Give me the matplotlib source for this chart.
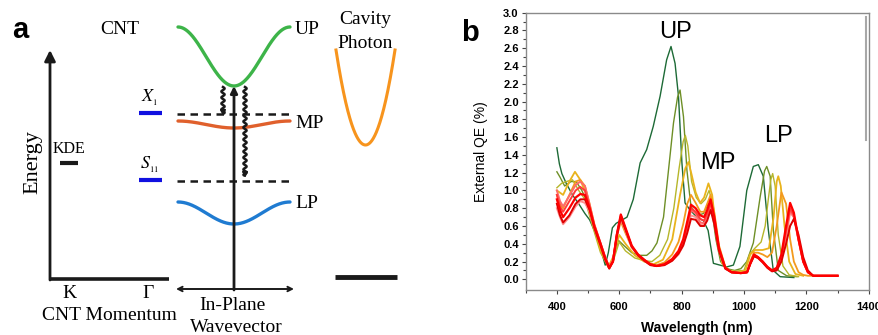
import matplotlib.pyplot as plt
import numpy as np

plt.rcParams['font.family'] = 'Liberation Sans'
plt.rcParams['mathtext.fontset'] = 'stix'

SERIF = 'Liberation Serif'

# ---------------- panel a: level diagram (pixel units) ----------------
band_names = ['UP', 'MP', 'LP']
band_edge = [27, 121, 202]       # energy at the band ends
band_center = [86, 128, 224]     # energy at zero wavevector
band_colors = ['#3db449', '#e0602c', '#1f7bd1']
band_x = [178, 290]

photon_x = [336, 395]
photon_edge = 50
photon_center = 145

exciton_labels = ['$X_{_1}$', '$S_{_{11}}$']
exciton_levels = [114, 181]

kde_level = 163

# ---------------- panel b: external QE spectra ----------------
dg_wl = [400, 408, 416, 430, 450, 470, 490, 505, 520, 540, 555, 565, 578, 590, 605, 625, 645, 667,
         688, 709, 731, 752, 766, 779, 790, 801, 811, 827, 849, 870, 885, 902, 923, 945, 966, 987,
         1009, 1030, 1046, 1062, 1078, 1094, 1116, 1160]
dg_qe = [1.48, 1.3, 1.19, 1.08, 0.95, 0.85, 0.74, 0.67, 0.55, 0.35, 0.16, 0.3, 0.58, 0.63, 0.66, 0.7,
         0.9, 1.31, 1.46, 1.72, 2.06, 2.47, 2.62, 2.43, 2.06, 1.31, 0.86, 0.78, 0.70, 0.66, 0.55, 0.18,
         0.16, 0.14, 0.16, 0.37, 1.0, 1.27, 1.29, 1.16, 0.56, 0.10, 0.03, 0.02]

ol_wl = [400, 410, 425, 445, 462, 480, 500, 520, 545, 565, 580, 597, 615, 640, 665, 688, 705, 721,
         742, 758, 774, 787, 795, 806, 817, 830, 850, 870, 885, 897, 910, 925, 945, 970, 990, 1009,
         1030, 1052, 1066, 1073, 1084, 1094, 1110, 1137, 1170]
ol_qe = [1.21, 1.15, 1.05, 1.1, 1.1, 1.0, 0.85, 0.6, 0.3, 0.14, 0.2, 0.44, 0.38, 0.3, 0.27, 0.27,
         0.32, 0.41, 0.70, 1.23, 1.76, 2.05, 2.13, 1.83, 1.23, 0.82, 0.72, 0.74, 0.85, 0.78, 0.45,
         0.2, 0.12, 0.1, 0.12, 0.2, 0.41, 0.93, 1.22, 1.27, 1.16, 0.56, 0.1, 0.04, 0.03]

yg_wl = [400, 415, 430, 450, 470, 490, 510, 540, 565, 580, 600, 620, 650, 680, 705, 730, 755, 775,
         792, 805, 812, 820, 832, 847, 862, 876, 888, 900, 915, 935, 960, 1000, 1018, 1035, 1055,
         1068, 1078, 1086, 1092, 1100, 1110, 1125, 1145, 1175]
yg_qe = [1.03, 1.08, 1.1, 1.12, 1.0, 0.9, 0.65, 0.3, 0.14, 0.2, 0.42, 0.32, 0.24, 0.21, 0.2, 0.27,
         0.45, 0.8, 1.25, 1.55, 1.62, 1.5, 1.1, 0.92, 0.85, 0.9, 1.0, 0.85, 0.4, 0.15, 0.09, 0.1,
         0.28, 0.35, 0.42, 0.6, 0.9, 1.12, 1.19, 1.05, 0.5, 0.15, 0.05, 0.03]

gd_wl = [400, 420, 440, 458, 475, 495, 515, 540, 565, 580, 600, 620, 650, 680, 710, 740, 770, 795,
         812, 822, 832, 845, 859, 872, 886, 898, 912, 930, 950, 980, 1005, 1020, 1035, 1060, 1080,
         1095, 1105, 1110, 1118, 1130, 1145, 1165, 1190]
gd_qe = [1.0, 0.95, 1.1, 1.21, 1.12, 0.95, 0.65, 0.33, 0.14, 0.25, 0.5, 0.4, 0.27, 0.2, 0.17, 0.22,
         0.45, 0.95, 1.25, 1.32, 1.18, 0.98, 0.86, 0.92, 1.08, 0.95, 0.5, 0.18, 0.1, 0.08, 0.1, 0.28,
         0.33, 0.33, 0.35, 0.7, 1.1, 1.16, 1.05, 0.6, 0.2, 0.06, 0.04]

rd_wl = [400, 410, 420, 440, 460, 475, 490, 505, 520, 540, 555, 568, 580, 592, 605, 620, 640, 660,
         680, 700, 720, 745, 770, 790, 805, 818, 830, 845, 860, 872, 882, 893, 905, 920, 940, 960,
         990, 1010, 1020, 1032, 1045, 1060, 1075, 1090, 1105, 1120, 1135, 1148, 1160, 1175, 1190,
         1205, 1222, 1300]
or_qe = [0.95, 0.85, 0.8, 0.95, 1.1, 1.12, 1.05, 0.85, 0.62, 0.4, 0.24, 0.13, 0.22, 0.48, 0.65,
         0.52, 0.36, 0.27, 0.21, 0.17, 0.16, 0.19, 0.28, 0.42, 0.62, 0.85, 0.95, 0.86, 0.76, 0.76,
         0.85, 0.95, 0.75, 0.38, 0.14, 0.08, 0.07, 0.08, 0.2, 0.3, 0.3, 0.28, 0.25, 0.3, 0.6, 0.98,
         0.85, 0.45, 0.2, 0.08, 0.05, 0.04, 0.04, 0.04]
r5_qe = [0.8, 0.7, 0.62, 0.7, 0.82, 0.88, 0.86, 0.76, 0.58, 0.39, 0.23, 0.13, 0.2, 0.48, 0.68, 0.55,
         0.36, 0.27, 0.21, 0.16, 0.15, 0.16, 0.21, 0.28, 0.38, 0.55, 0.72, 0.7, 0.62, 0.6, 0.7, 0.82,
         0.64, 0.32, 0.12, 0.08, 0.07, 0.08, 0.17, 0.26, 0.24, 0.19, 0.13, 0.09, 0.11, 0.22, 0.48,
         0.75, 0.7, 0.45, 0.2, 0.08, 0.04, 0.04]
r4_qe = [1.0, 0.88, 0.82, 0.94, 1.06, 1.1, 1.05, 0.84, 0.62, 0.41, 0.25, 0.14, 0.22, 0.5, 0.7, 0.56,
         0.37, 0.28, 0.22, 0.17, 0.15, 0.17, 0.22, 0.3, 0.4, 0.58, 0.78, 0.74, 0.64, 0.63, 0.72, 0.84,
         0.66, 0.33, 0.13, 0.08, 0.07, 0.08, 0.18, 0.27, 0.25, 0.2, 0.14, 0.1, 0.12, 0.24, 0.52, 0.78,
         0.7, 0.44, 0.2, 0.08, 0.04, 0.04]
r3_qe = [0.95, 0.82, 0.76, 0.88, 1.0, 1.04, 1.0, 0.82, 0.6, 0.4, 0.24, 0.13, 0.21, 0.5, 0.72, 0.57,
         0.37, 0.28, 0.22, 0.17, 0.15, 0.17, 0.22, 0.3, 0.42, 0.6, 0.8, 0.76, 0.68, 0.66, 0.74, 0.86,
         0.68, 0.34, 0.13, 0.08, 0.07, 0.08, 0.18, 0.27, 0.25, 0.2, 0.14, 0.1, 0.12, 0.25, 0.55, 0.8,
         0.72, 0.45, 0.2, 0.08, 0.04, 0.04]
r2_qe = [0.85, 0.72, 0.64, 0.72, 0.85, 0.9, 0.9, 0.78, 0.58, 0.38, 0.22, 0.12, 0.2, 0.48, 0.7, 0.56,
         0.37, 0.27, 0.21, 0.16, 0.15, 0.16, 0.21, 0.29, 0.38, 0.52, 0.68, 0.67, 0.6, 0.6, 0.66, 0.78,
         0.62, 0.32, 0.12, 0.08, 0.07, 0.08, 0.17, 0.26, 0.24, 0.19, 0.13, 0.09, 0.1, 0.2, 0.4, 0.6,
         0.68, 0.5, 0.25, 0.1, 0.04, 0.04]
r1_qe = [0.9, 0.78, 0.7, 0.8, 0.92, 0.96, 0.95, 0.8, 0.6, 0.4, 0.24, 0.13, 0.2, 0.5, 0.73, 0.58,
         0.38, 0.28, 0.22, 0.17, 0.15, 0.17, 0.23, 0.32, 0.45, 0.65, 0.84, 0.8, 0.72, 0.7, 0.78, 0.9,
         0.7, 0.35, 0.13, 0.08, 0.07, 0.08, 0.18, 0.28, 0.25, 0.2, 0.14, 0.1, 0.13, 0.28, 0.6, 0.86,
         0.75, 0.45, 0.2, 0.08, 0.04, 0.04]

spectra = [
    (dg_wl, dg_qe, '#1d6a36', 1.0),
    (ol_wl, ol_qe, '#6e8f26', 1.0),
    (yg_wl, yg_qe, '#b6b62a', 1.0),
    (gd_wl, gd_qe, '#e9b31c', 1.3),
    (rd_wl, or_qe, '#f39a1e', 1.3),
    (rd_wl, r5_qe, '#ff9090', 1.4),
    (rd_wl, r4_qe, '#ff6a6a', 1.4),
    (rd_wl, r3_qe, '#ff3b3b', 1.4),
    (rd_wl, r2_qe, '#dd0000', 1.4),
    (rd_wl, r1_qe, '#ff0000', 1.6),
]

peak_labels = ['UP', 'MP', 'LP']
peak_label_pos = [(779, 2.78), (917, 1.31), (1112, 1.61)]

fig = plt.figure(figsize=(8.79, 3.35), dpi=100)

# ---- panel a ----
ax0 = fig.add_axes([0, 0, 1, 1])
ax0.set_xlim(0, 879)
ax0.set_ylim(335, 0)
ax0.axis('off')

def band_shape(x0, x1, edge, center, n=200):
    x = np.linspace(x0, x1, n)
    mid = (x0 + x1) / 2
    half = (x1 - x0) / 2
    y = edge + (center - edge) * (1 + np.cos(np.pi * (x - mid) / half)) / 2
    return x, y

for name, e, c, col in zip(band_names, band_edge, band_center, band_colors):
    x, y = band_shape(band_x[0], band_x[1], e, c)
    ax0.plot(x, y, color=col, lw=2.4, solid_capstyle='round')
    ax0.text(295, e + 2, name, family=SERIF, fontsize=14, va='center', ha='left')

# cavity photon dispersion
xp = np.linspace(photon_x[0], photon_x[1], 200)
mp = (photon_x[0] + photon_x[1]) / 2
hp = (photon_x[1] - photon_x[0]) / 2
yp = photon_center - (photon_center - photon_edge) * ((xp - mp) / hp) ** 2
ax0.plot(xp, yp, color='#f7941d', lw=2.2)
ax0.plot([335, 397], [277, 277], color='#1a1a1a', lw=3.5, solid_capstyle='butt')
ax0.text(365, 20, 'Cavity', family=SERIF, fontsize=14, ha='center', va='center')
ax0.text(365, 43, 'Photon', family=SERIF, fontsize=14, ha='center', va='center')

# exciton levels
for lab, lv in zip(exciton_labels, exciton_levels):
    ax0.plot([139, 162], [lv - 1, lv - 1], color='#1010e0', lw=3, solid_capstyle='butt')
    ax0.plot([177, 293], [lv, lv], color='#1a1a1a', lw=1.8, ls=(0, (3, 2.2)))
    ax0.text(150, lv - 16, lab, fontsize=13, ha='center', va='center')

# CNT axes
ax0.annotate('', xy=(50, 50), xytext=(50, 280),
             arrowprops=dict(arrowstyle='-|>', lw=2, color='#1a1a1a', mutation_scale=16,
                             shrinkA=0, shrinkB=0))
ax0.plot([50, 169], [279, 279], color='#1a1a1a', lw=2.6, solid_capstyle='butt')
ax0.plot([60, 78], [kde_level, kde_level], color='#1a1a1a', lw=3, solid_capstyle='butt')
ax0.text(69, 149, 'KDE', family=SERIF, fontsize=11.5, ha='center', va='center')
ax0.text(33, 162, 'Energy', family=SERIF, fontsize=16, ha='center', va='center', rotation=90)
ax0.text(69, 293, 'K', family=SERIF, fontsize=14, ha='center', va='center')
ax0.text(148, 293, 'Γ', family=SERIF, fontsize=14, ha='center', va='center')
ax0.text(109, 315, 'CNT Momentum', family=SERIF, fontsize=14, ha='center', va='center')
ax0.text(120, 30, 'CNT', family=SERIF, fontsize=14, ha='center', va='center')

# in-plane wavevector arrows
ax0.annotate('', xy=(234, 86), xytext=(234, 290),
             arrowprops=dict(arrowstyle='-|>', lw=2, color='#1a1a1a', mutation_scale=10,
                             shrinkA=0, shrinkB=0))
ax0.annotate('', xy=(176, 289), xytext=(294, 289),
             arrowprops=dict(arrowstyle='<->', lw=1.4, color='#1a1a1a', mutation_scale=8,
                             shrinkA=0, shrinkB=0))
ax0.text(232, 305, 'In-Plane', family=SERIF, fontsize=14, ha='center', va='center')
ax0.text(236, 327, 'Wavevector', family=SERIF, fontsize=14, ha='center', va='center')

# wavy relaxation arrows
for xc, y0, y1 in [(223, 87, 113), (245, 87, 175)]:
    yy = np.linspace(y0, y1, 200)
    xx = xc + 1.6 * np.sin(2 * np.pi * (yy - y0) / 6.0)
    ax0.plot(xx, yy, color='#1a1a1a', lw=1.8)
    ax0.annotate('', xy=(xc, y1 + 3), xytext=(xc, y1 - 2),
                 arrowprops=dict(arrowstyle='-|>', lw=1.2, color='#1a1a1a', mutation_scale=8,
                                 shrinkA=0, shrinkB=0))

ax0.text(20, 30, 'a', fontsize=21, fontweight='bold', ha='center', va='center')
ax0.text(470, 33, 'b', fontsize=21, fontweight='bold', ha='center', va='center')

# ---- panel b ----
ax = fig.add_axes([525.7 / 879, 45 / 335, 343 / 879, 277.3 / 335])
for wl, qe, col, lw in spectra:
    ax.plot(wl, qe, color=col, lw=lw)

for lab, (x, y) in zip(peak_labels, peak_label_pos):
    ax.text(x, y, lab, fontsize=17, ha='center', va='center')

# grey bar at the right edge of the original plot
ax.plot([1391, 1391], [1.57, 2.95], color='#a8a8a8', lw=1.5)

ax.set_xlim(300, 1400)
ax.set_ylim(-0.12, 3.0)
ax.set_xticks(np.arange(400, 1401, 200))
ax.set_xticks(np.arange(300, 1401, 100), minor=True)
ax.set_yticks(np.arange(0, 3.01, 0.2))
ax.set_yticks(np.arange(0, 3.01, 0.1), minor=True)
ax.set_yticklabels(['%.1f' % v for v in np.arange(0, 3.01, 0.2)])
for lab in ax.get_xticklabels() + ax.get_yticklabels():
    lab.set_fontweight('bold')
ax.tick_params(axis='both', which='major', direction='out', length=3, width=0.8,
               labelsize=8, color='#444444', pad=2)
ax.tick_params(axis='x', which='major', pad=6)
ax.tick_params(axis='both', which='minor', direction='out', length=2, width=0.8, color='#444444')
for sp in ax.spines.values():
    sp.set_color('#8a8a8a')
    sp.set_linewidth(1.0)
ax.set_xlabel('Wavelength (nm)', fontsize=10, fontweight='bold', labelpad=6)
ax.set_ylabel('External QE (%)', fontsize=10, labelpad=11)

fig.savefig('out.png', dpi=100)
